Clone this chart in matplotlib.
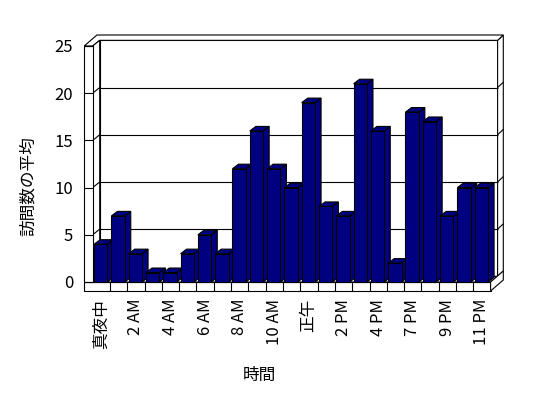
import matplotlib
matplotlib.use("Agg")
import matplotlib.pyplot as plt
from matplotlib.patches import Polygon

plt.rcParams['font.family'] = ['Noto Sans CJK JP', 'DejaVu Sans']

# data
hours = ['真夜中', '1 AM', '2 AM', '3 AM', '4 AM', '5 AM', '6 AM', '7 AM', '8 AM',
         '9 AM', '10 AM', '11 AM', '正午', '1 PM', '2 PM', '3 PM', '4 PM', '5 PM',
         '7 PM', '8 PM', '9 PM', '10 PM', '11 PM']
visits = [4, 7, 3, 1, 1, 3, 5, 3, 12, 16, 12, 10, 19, 8, 7, 21, 16, 2, 18, 17, 7, 10, 10]
yticks = [0, 5, 10, 15, 20, 25]

BAR = '#000080'
LW = 0.8

fig = plt.figure(figsize=(5.48, 3.98), dpi=100)
ax = fig.add_axes([92.7 / 548, 116 / 398, 397.9 / 548, 236 / 398])
n = len(visits)
x0, x1 = -0.5, n - 0.5
ymax = 25
ax.set_xlim(x0, x1)
ax.set_ylim(0, ymax)
for s in ax.spines.values():
    s.set_visible(False)

# 3d offsets (data units)
d1 = (0.405, 0.60)   # inner face of back wall
d2 = (0.734, 1.165)  # outer face of back wall
tw = 0.49            # wall thickness
fh = 0.95            # floor thickness


def face(pts, z, fc='white'):
    ax.add_patch(Polygon(pts, closed=True, facecolor=fc, edgecolor='black',
                         lw=LW, zorder=z, clip_on=False, joinstyle='miter'))


def line(xs, ys, z):
    ax.plot(xs, ys, color='black', lw=LW, zorder=z, clip_on=False,
            solid_capstyle='butt')


# back wall
face([(x0 + d1[0], d1[1]), (x1 + d1[0], d1[1]),
      (x1 + d1[0], ymax + d1[1]), (x0 + d1[0], ymax + d1[1])], 1)
face([(x1 + d1[0], d1[1]), (x1 + d1[0], ymax + d1[1]),
      (x1 + d2[0], ymax + d2[1]), (x1 + d2[0], d2[1])], 1)
face([(x0 - tw, ymax), (x0, ymax), (x0 + d1[0], ymax + d1[1]),
      (x1 + d1[0], ymax + d1[1]), (x1 + d2[0], ymax + d2[1]),
      (x0 - tw + d2[0], ymax + d2[1])], 1)
# left wall inner face
face([(x0, 0), (x0, ymax), (x0 + d1[0], ymax + d1[1]), (x0 + d1[0], d1[1])], 1)
for v in yticks[1:-1]:
    line([x0 + d1[0], x1 + d1[0]], [v + d1[1], v + d1[1]], 1.2)
    line([x0, x0 + d1[0]], [v, v + d1[1]], 1.2)
    line([x1 + d1[0], x1 + d2[0]], [v + d1[1], v + d2[1]], 1.2)

# floor
face([(x0, 0), (x1, 0), (x1 + d1[0], d1[1]), (x0 + d1[0], d1[1])], 1.5)
face([(x0 - tw, -fh), (x1, -fh), (x1, 0), (x0 - tw, 0)], 2)
face([(x1, -fh), (x1, 0), (x1 + d2[0], d2[1]), (x1 + d2[0], d2[1] - fh)], 2)
for k in range(1, n):
    line([x0 + k, x0 + k], [-fh, 0], 2.1)

# left wall front face
face([(x0 - tw, 0), (x0, 0), (x0, ymax), (x0 - tw, ymax)], 2)
for v in yticks:
    line([x0 - tw, x0], [v, v], 2.1)

# bars
bw = 0.77
bd = (0.35, 0.48)
for i, v in enumerate(visits):
    left = i - 0.5 + 0.08
    right = left + bw
    z = 3 + i * 0.01
    face([(right, 0), (right + bd[0], bd[1]), (right + bd[0], v + bd[1]), (right, v)], z, BAR)
    face([(left, v), (right, v), (right + bd[0], v + bd[1]), (left + bd[0], v + bd[1])], z, BAR)
    face([(left, 0), (right, 0), (right, v), (left, v)], z + 0.001, BAR)

ax.set_yticks(yticks)
ax.set_yticklabels([str(v) for v in yticks], fontsize=12)
ax.set_xticks(range(0, n, 2))
ax.set_xticklabels(hours[::2], rotation=90, fontsize=12)
ax.tick_params(axis='y', length=0, pad=14)
ax.tick_params(axis='x', length=0, pad=12)

fig.text(259 / 548, 1 - 375 / 398, '時間', ha='center', va='center', fontsize=12)
fig.text(28 / 548, 1 - 186 / 398, '訪問数の平均', ha='center', va='center',
         rotation=90, fontsize=12)

fig.savefig('out.png', dpi=100)
